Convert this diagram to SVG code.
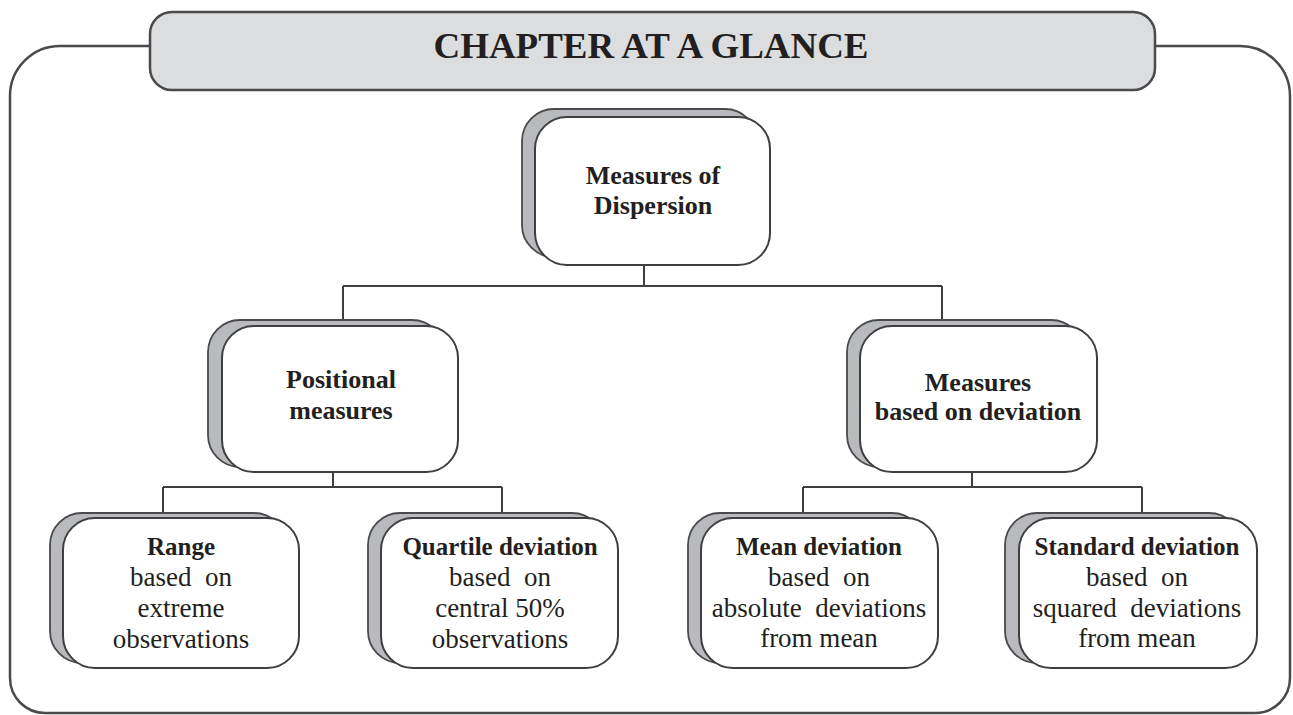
<svg xmlns="http://www.w3.org/2000/svg" width="1293" height="715" viewBox="0 0 1293 715">
  <style>
    .frame { fill: none; stroke: #4a4a4c; stroke-width: 2.5; }
    .banner { fill: #dcdddf; stroke: #4a4a4c; stroke-width: 2.5; }
    .back { fill: #b9babd; stroke: #4a4a4c; stroke-width: 1.8; }
    .card { fill: #ffffff; stroke: #3f3f41; stroke-width: 2; }
    .wire { fill: none; stroke: #3f3f41; stroke-width: 2; }
    text { font-family: "Liberation Serif", "Times New Roman", serif; fill: #231f20; text-anchor: middle; }
    .title { font-size: 35px; font-weight: bold; }
    .head { font-size: 26px; font-weight: bold; }
    .sub { font-size: 25px; font-weight: bold; }
    .body { font-size: 27px; white-space: pre; }
  </style>

  <!-- outer frame -->
  <path class="frame" d="M150,46 H60 A50,50 0 0 0 10,96 V678 A35,35 0 0 0 45,713 H1255 A35,35 0 0 0 1290,678 V96 A50,50 0 0 0 1240,46 H1155"/>

  <!-- banner -->
  <g id="banner">
    <rect class="banner" x="150" y="12" width="1005" height="78" rx="22"/>
    <text class="title" x="651" y="58" textLength="435" lengthAdjust="spacingAndGlyphs">CHAPTER AT A GLANCE</text>
  </g>

  <!-- connectors -->
  <g id="connectors">
    <path class="wire" d="M644,265 V286 M343,286 H942 M343,286 V321 M942,286 V321"/>
    <path class="wire" d="M333,472 V487 M163,487 H502 M163,487 V513 M502,487 V513"/>
    <path class="wire" d="M972,472 V487 M803,487 H1142 M803,487 V513 M1142,487 V513"/>
  </g>

  <g id="dispersion">
    <rect class="back" x="522" y="109" width="235" height="148" rx="32"/>
    <rect class="card" x="535" y="117" width="235" height="148" rx="32"/>
    <text class="head" x="653" y="184">Measures of</text>
    <text class="head" x="653" y="214">Dispersion</text>
  </g>

  <g id="positional">
    <rect class="back" x="208" y="320" width="236" height="147" rx="32"/>
    <rect class="card" x="222" y="326" width="236" height="146" rx="32"/>
    <text class="head" x="341" y="388">Positional</text>
    <text class="head" x="341" y="419">measures</text>
  </g>

  <g id="deviation-based">
    <rect class="back" x="847" y="320" width="236" height="147" rx="32"/>
    <rect class="card" x="860" y="326" width="237" height="146" rx="32"/>
    <text class="head" x="978" y="391">Measures</text>
    <text class="head" x="978" y="420">based on deviation</text>
  </g>

  <g id="range">
    <rect class="back" x="50" y="513" width="236" height="150" rx="32"/>
    <rect class="card" x="63" y="518" width="236" height="150" rx="32"/>
    <text class="sub" x="181" y="555">Range</text>
    <text class="body" x="181" y="586">based  on</text>
    <text class="body" x="181" y="617">extreme</text>
    <text class="body" x="181" y="648">observations</text>
  </g>

  <g id="quartile">
    <rect class="back" x="368" y="513" width="236" height="150" rx="32"/>
    <rect class="card" x="381" y="518" width="237" height="150" rx="32"/>
    <text class="sub" x="500" y="555">Quartile deviation</text>
    <text class="body" x="500" y="586">based  on</text>
    <text class="body" x="500" y="617">central 50%</text>
    <text class="body" x="500" y="648">observations</text>
  </g>

  <g id="mean">
    <rect class="back" x="688" y="513" width="236" height="150" rx="32"/>
    <rect class="card" x="701" y="518" width="237" height="150" rx="32"/>
    <text class="sub" x="819" y="555">Mean deviation</text>
    <text class="body" x="819" y="586">based  on</text>
    <text class="body" x="819" y="617">absolute  deviations</text>
    <text class="body" x="819" y="647">from mean</text>
  </g>

  <g id="standard">
    <rect class="back" x="1005" y="513" width="236" height="150" rx="32"/>
    <rect class="card" x="1019" y="518" width="238" height="150" rx="32"/>
    <text class="sub" x="1137" y="555">Standard deviation</text>
    <text class="body" x="1137" y="586">based  on</text>
    <text class="body" x="1137" y="617">squared  deviations</text>
    <text class="body" x="1137" y="647">from mean</text>
  </g>
</svg>
